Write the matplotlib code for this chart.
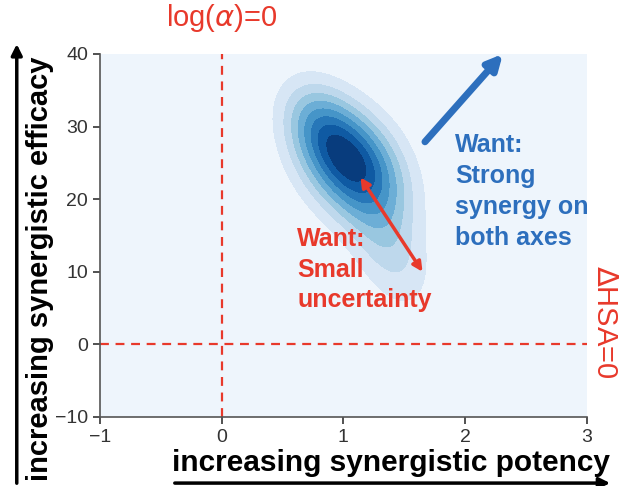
import numpy as np
import matplotlib
matplotlib.use("Agg")
import matplotlib.pyplot as plt
from matplotlib.patches import FancyArrowPatch

plt.rcParams['font.family'] = ['Liberation Sans', 'DejaVu Sans']

# posterior density described as a small gaussian mixture
comp_x = [1.06, 0.80, 1.36, 1.10]
comp_y = [25.0, 30.5, 14.0, 18.0]
comp_sx = [0.28, 0.20, 0.23, 1.50]
comp_sy = [5.2, 4.0, 6.0, 25.0]
comp_rho = [-0.35, -0.3, -0.45, -0.5]
comp_w = [0.68, 0.12, 0.17, 0.03]

x_ticks = [-1, 0, 1, 2, 3]
y_ticks = [-10, 0, 10, 20, 30, 40]
n_levels = 10

RED = '#e8392b'
BLUE = '#2d6fbd'


def mixture_density(gx, gy):
    dens = np.zeros_like(gx)
    for mx, my, sx, sy, r, w in zip(comp_x, comp_y, comp_sx, comp_sy, comp_rho, comp_w):
        u = (gx - mx) / sx
        v = (gy - my) / sy
        q = (u**2 - 2 * r * u * v + v**2) / (1 - r**2)
        dens += w * np.exp(-0.5 * q) / (2 * np.pi * sx * sy * np.sqrt(1 - r**2))
    return dens


def isoprop_levels(dens, props):
    # same idea as seaborn's kdeplot: levels enclose fixed shares of the mass
    vals = np.sort(dens.ravel())[::-1]
    cum = np.cumsum(vals) / vals.sum()
    idx = np.searchsorted(cum, 1 - np.asarray(props))
    return np.take(vals, idx, mode='clip')


fig = plt.figure(figsize=(6.21, 4.86), dpi=100)
ax = fig.add_axes([0.161, 0.142, 0.784, 0.747])

gx, gy = np.meshgrid(np.linspace(-1, 3, 300), np.linspace(-10, 40, 300))
dens = mixture_density(gx, gy)
levels = isoprop_levels(dens, np.linspace(0, 1, n_levels))
levels = np.unique(levels)
levels[-1] = dens.max() * 1.001
colors = plt.cm.Blues(np.linspace(0.05, 0.95, len(levels) - 1))
ax.contourf(gx, gy, dens, levels=levels, colors=colors)

ax.axvline(0, color=RED, ls='--', lw=1.6, dashes=(4, 3))
ax.axhline(0, color=RED, ls='--', lw=1.6, dashes=(4, 3))

ax.set_xlim(-1, 3)
ax.set_ylim(-10, 40)
ax.set_xticks(x_ticks)
ax.set_yticks(y_ticks)
ax.tick_params(labelsize=14, colors='#333333', length=5, width=1.2)
for side in ['top', 'right']:
    ax.spines[side].set_visible(False)
for side in ['left', 'bottom']:
    ax.spines[side].set_color('#555555')
    ax.spines[side].set_linewidth(1.2)

# goal arrows
ax.annotate('', xy=(2.31, 40.0), xytext=(1.67, 27.9), annotation_clip=False,
            arrowprops=dict(arrowstyle='-|>', color=BLUE, lw=5, mutation_scale=22,
                            shrinkA=0, shrinkB=0))
ax.annotate('', xy=(1.14, 23.0), xytext=(1.65, 10.0),
            arrowprops=dict(arrowstyle='<|-|>', color=RED, lw=2.5, mutation_scale=14,
                            shrinkA=0, shrinkB=0))

ax.text(0.62, 16.2, 'Want:\nSmall\nuncertainty', color=RED, fontsize=18,
        fontweight='bold', va='top', ha='left', linespacing=1.36)
ax.text(1.92, 29.1, 'Want:\nStrong\nsynergy on\nboth axes', color=BLUE, fontsize=18,
        fontweight='bold', va='top', ha='left', linespacing=1.36)

# reference line labels
fig.text(0.357, 0.963, r'log($\alpha$)=0', color=RED, fontsize=21, ha='center', va='center')
fig.text(0.975, 0.337, r'$\Delta$HSA=0', color=RED, fontsize=21, rotation=-90,
         ha='center', va='center')

# axis titles with direction arrows
fig.text(0.064, 0.447, 'increasing synergistic efficacy', fontsize=21, fontweight='bold',
         rotation=90, ha='center', va='center')
fig.text(0.630, 0.047, 'increasing synergistic potency', fontsize=21.5, fontweight='bold',
         ha='center', va='center')
fig.add_artist(FancyArrowPatch((0.027, 0.0), (0.027, 0.915), transform=fig.transFigure,
                               arrowstyle='-|>', mutation_scale=16, lw=2.5, color='black'))
fig.add_artist(FancyArrowPatch((0.277, 0.006), (0.987, 0.006), transform=fig.transFigure,
                               arrowstyle='-|>', mutation_scale=16, lw=2.5, color='black'))

fig.savefig('out.png', dpi=100)
